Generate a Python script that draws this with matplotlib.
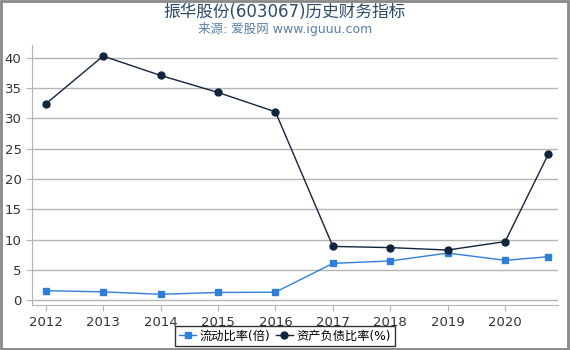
"""
Historical financial ratios for 振华股份 (603067): current ratio and debt ratio.
"""

import matplotlib
matplotlib.use("Agg")
import matplotlib.pyplot as plt

plt.rcParams["font.family"] = ["DejaVu Sans", "Noto Sans CJK SC"]

# Data
years = [2012, 2013, 2014, 2015, 2016, 2017, 2018, 2019, 2020, 2020.75]
year_ticks = [2012, 2013, 2014, 2015, 2016, 2017, 2018, 2019, 2020]
current_ratio = [1.6, 1.4, 1.0, 1.3, 1.35, 6.1, 6.5, 7.8, 6.6, 7.2]
debt_ratio = [32.4, 40.3, 37.1, 34.3, 31.1, 8.9, 8.7, 8.3, 9.7, 24.1]

title = "振华股份(603067)历史财务指标"
subtitle = "来源: 爱股网 www.iguuu.com"
label_current = "流动比率(倍)"
label_debt = "资产负债比率(%)"


def main():
    fig = plt.figure(figsize=(5.7, 3.5), dpi=100)
    ax = fig.add_axes([0.056, 0.128, 0.923, 0.743])

    ax.plot(years, current_ratio, color="#2f7fd8", lw=1, marker="s",
            markersize=5, label=label_current, zorder=3)
    ax.plot(years, debt_ratio, color="#13243d", lw=1, marker="o",
            markersize=5, label=label_debt, zorder=3)

    ax.set_xlim(2011.76, 2020.92)
    ax.set_ylim(-0.8, 42.1)
    ax.set_xticks(year_ticks)
    ax.set_yticks(range(0, 41, 5))
    ax.yaxis.grid(True, color="#b4b4b4", lw=1)
    ax.set_axisbelow(True)

    for side in ("top", "right"):
        ax.spines[side].set_visible(False)
    for side in ("left", "bottom"):
        ax.spines[side].set_color("#b4b4b4")
    ax.tick_params(colors="#b4b4b4", labelcolor="#333333", labelsize=9.5, length=4)

    fig.text(0.5, 0.965, title, ha="center", va="center", fontsize=12, color="#2e4a6b")
    fig.text(0.5, 0.918, subtitle, ha="center", va="center", fontsize=9, color="#5a7fa8")

    handles, labels = ax.get_legend_handles_labels()
    leg = fig.legend(handles, labels, loc="lower center", bbox_to_anchor=(0.5, 0.0),
                     ncol=2, frameon=True, fancybox=False, fontsize=8.8,
                     handlelength=1.4, handletextpad=0.3, columnspacing=0.4,
                     borderpad=0.3, borderaxespad=0.3)
    leg.get_frame().set_edgecolor("black")
    leg.get_frame().set_linewidth(1)

    # gray border around the whole picture
    fig.patches.append(plt.Rectangle((0.002, 0.004), 0.994, 0.994, transform=fig.transFigure,
                                     fill=False, edgecolor="#888888", lw=2))

    fig.savefig("out.png", dpi=100)


if __name__ == "__main__":
    main()
